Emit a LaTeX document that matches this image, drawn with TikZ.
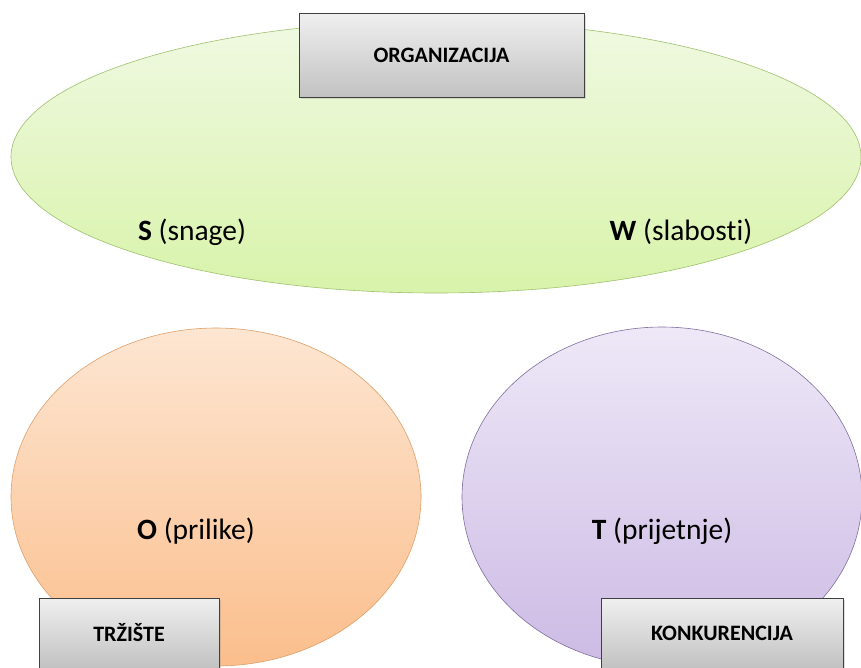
\documentclass[tikz,border=0pt]{standalone}
\usepackage{fontspec}
\setmainfont[Ligatures=NoCommon]{Carlito}
\usepackage{tikz}
\usetikzlibrary{shapes.geometric,positioning,shadows}
\definecolor{grtop}{RGB}{240,249,226}
\definecolor{grbot}{RGB}{216,243,170}
\definecolor{grbord}{RGB}{160,192,110}
\definecolor{ortop}{RGB}{253,230,210}
\definecolor{orbot}{RGB}{251,190,140}
\definecolor{orbord}{RGB}{222,160,105}
\definecolor{pltop}{RGB}{238,232,247}
\definecolor{plbot}{RGB}{204,186,228}
\definecolor{plbord}{RGB}{128,112,158}

\begin{document}
\begin{tikzpicture}[x=1pt,y=-1pt]

\tikzset{oval/.style={shape=ellipse,inner sep=0pt,line width=.6pt},
labelbox/.style={draw=black!75,line width=.6pt,top color=black!6,bottom color=black!24,font=\fontsize{22}{26}\selectfont\bfseries,inner sep=0pt,drop shadow={opacity=.25,shadow xshift=1.5pt,shadow yshift=-1.5pt}},
swot/.style={font=\fontsize{29.5}{34}\selectfont}}

\useasboundingbox[fill=white] (0,0) rectangle (861,667);

% Ovals
\node (org) [oval,minimum width=850pt,minimum height=272pt,draw=grbord,top color=grtop,bottom color=grbot] at (436,157) {};
\node (trz) [oval,minimum width=410pt,minimum height=338pt,draw=orbord,top color=ortop,bottom color=orbot] at (216,497) {};
\node (kon) [oval,minimum width=400pt,minimum height=340pt,draw=plbord,top color=pltop,bottom color=plbot] at (662,497) {};

% Letters
\node (s) [swot] at (192,232) {\textbf{S} (snage)};
\node (w) [swot] at (681,232) {\textbf{W} (slabosti)};
\node (o) [swot] at (196,531) {\textbf{O} (prilike)};
\node (t) [swot] at (662,531) {\textbf{T} (prijetnje)};

% Boxes
\node (orgbox) [labelbox,minimum width=285pt,minimum height=84pt] at (441.5,55) {ORGANIZACIJA};
\node (trzbox) [labelbox,minimum width=180pt,minimum height=70pt] at (129,633) {TRŽIŠTE};
\node (konbox) [labelbox,minimum width=242pt,minimum height=70pt] at (722,633) {KONKURENCIJA};

\end{tikzpicture}
\end{document}
